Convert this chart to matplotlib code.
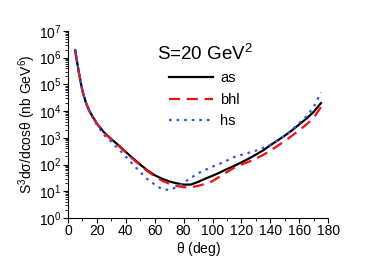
import matplotlib
matplotlib.use("Agg")
import matplotlib.pyplot as plt
import numpy as np
from matplotlib.ticker import LogLocator, MultipleLocator, NullFormatter

plt.rcParams['font.family'] = ['Liberation Sans', 'DejaVu Sans']
plt.rcParams['mathtext.fontset'] = 'custom'
plt.rcParams['mathtext.rm'] = 'Liberation Sans'
plt.rcParams['mathtext.it'] = 'Liberation Sans'

theta = [5, 7.5, 10, 12.5, 15, 20, 25, 30, 35, 40, 45, 50, 55, 60, 65, 70, 75,
         80, 85, 90, 95, 100, 105, 110, 115, 120, 125, 130, 135, 140, 145, 150,
         155, 160, 165, 170, 175]

# log10 of the cross section
log_as = [6.27, 5.45, 4.75, 4.3, 3.98, 3.53, 3.2, 2.95, 2.72, 2.47, 2.23, 2.0,
          1.78, 1.6, 1.47, 1.37, 1.3, 1.25, 1.25, 1.35, 1.47, 1.58, 1.7, 1.83,
          1.95, 2.08, 2.22, 2.37, 2.53, 2.72, 2.9, 3.08, 3.28, 3.5, 3.72, 3.97,
          4.3]
log_bhl = [6.25, 5.45, 4.75, 4.3, 3.98, 3.53, 3.2, 2.93, 2.7, 2.45, 2.2, 1.97,
           1.75, 1.56, 1.4, 1.28, 1.2, 1.15, 1.15, 1.2, 1.28, 1.38, 1.55, 1.72,
           1.88, 2.0, 2.1, 2.22, 2.36, 2.52, 2.7, 2.88, 3.08, 3.28, 3.5, 3.75,
           4.15]
log_hs = [6.27, 5.45, 4.74, 4.28, 3.95, 3.48, 3.1, 2.85, 2.58, 2.3, 2.0, 1.72,
          1.45, 1.25, 1.08, 1.05, 1.15, 1.32, 1.5, 1.67, 1.8, 1.92, 2.03, 2.15,
          2.28, 2.36, 2.44, 2.52, 2.62, 2.74, 2.9, 3.08, 3.3, 3.55, 3.8, 4.15,
          4.7]

fig = plt.figure(figsize=(3.82, 2.62), dpi=100)
ax = fig.add_axes([0.178, 0.168, 0.681, 0.714])

ax.plot(theta, 10 ** np.array(log_as), color='black', lw=1.6, label='as')
ax.plot(theta, 10 ** np.array(log_bhl), color='#ee1111', lw=1.6,
        dashes=(5, 3), label='bhl')
ax.plot(theta, 10 ** np.array(log_hs), color='#3355ee', lw=1.6,
        dashes=(1.2, 2.2), label='hs')

ax.set_yscale('log')
ax.set_xlim(0, 180)
ax.set_ylim(1, 1e7)
ax.xaxis.set_major_locator(MultipleLocator(20))
ax.xaxis.set_minor_locator(MultipleLocator(10))
ax.yaxis.set_major_locator(LogLocator(base=10, numticks=10))
ax.yaxis.set_minor_locator(LogLocator(base=10, subs=np.arange(2, 10), numticks=10))
ax.yaxis.set_minor_formatter(NullFormatter())
ax.tick_params(which='major', direction='out', length=3.5, width=0.8, labelsize=10, pad=1)
ax.tick_params(which='minor', direction='out', length=2, width=0.6)
ax.spines['top'].set_visible(False)
ax.spines['right'].set_visible(False)

ax.set_xlabel(r'$\theta$ (deg)', fontsize=10, labelpad=1)
ax.set_ylabel(r'S$^3$d$\sigma$/dcos$\theta$ (nb GeV$^6$)', fontsize=10, labelpad=1)

leg = ax.legend(title=r'S=20 GeV$^2$', frameon=False, fontsize=10.5,
                title_fontsize=13.5, loc='upper left',
                bbox_to_anchor=(0.29, 1.0), handlelength=3.0,
                handletextpad=0.5, labelspacing=0.5)

plt.savefig("out.png", dpi=100)
